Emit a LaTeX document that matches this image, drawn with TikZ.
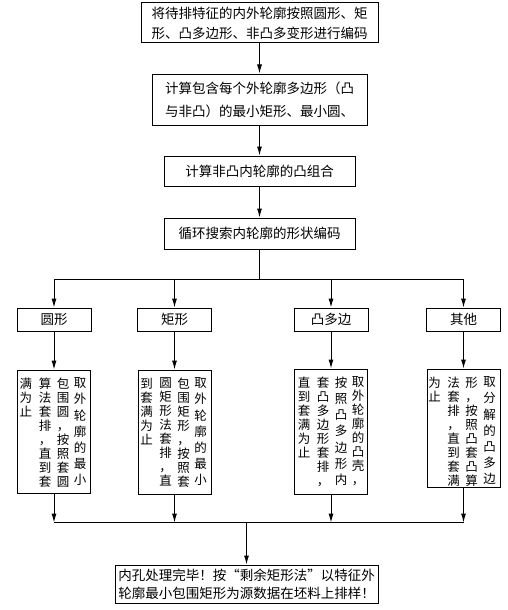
\documentclass[tikz,border=0pt]{standalone}
\usepackage{fontspec}
\setmainfont{Noto Sans CJK SC}
\usetikzlibrary{positioning, arrows.meta, calc}

\begin{document}
\begin{tikzpicture}[
    x=1pt, y=-1pt,
    procbox/.style = {draw, line width=1pt, align=center, inner sep=0pt, font=\fontsize{13.5}{20}\selectfont},
    catbox/.style  = {procbox, minimum width=74pt, minimum height=23pt},
    textbox/.style = {draw, line width=1pt, minimum width=73pt, inner sep=0pt, anchor=north},
    vcol/.style    = {anchor=north, align=center, inner sep=0pt, font=\fontsize{12.5}{14}\selectfont},
    vspread/.style = {vcol, font=\fontsize{12.5}{16.2}\selectfont},
    arrow/.style   = {-{Latex[length=9pt, width=5pt]}, line width=1pt},
    node distance  = 30pt
]
\useasboundingbox (0,0) rectangle (508,610);
% main chain
\node[procbox, minimum width=237pt, minimum height=40pt] (code) at (259.5,23)
  {将待排特征的内外轮廓按照圆形、矩\\形、凸多边形、非凸多变形进行编码};
\node[procbox, minimum width=215pt, minimum height=51pt, font=\fontsize{13.5}{23}\selectfont, below=of code] (bound)
  {计算包含每个外轮廓多边形（凸\\与非凸）的最小矩形、最小圆、};
\node[procbox, minimum width=191pt, minimum height=30pt, below=of bound] (convex) {计算非凸内轮廓的凸组合};
\node[procbox, minimum width=191pt, minimum height=31pt, below=31pt of convex] (search) {循环搜索内轮廓的形状编码};
\coordinate (split) at ($(search.south)+(0,30)$);
\foreach \a/\b in {code/bound, bound/convex, convex/search}
  \draw[arrow] (\a) -- (\b);
\draw[line width=1pt] (search) -- (split);
% shape classes
\node[catbox] (circ)  at (54,319.5)    {圆形};
\node[catbox] (rect)  at (174.5,319.5) {矩形};
\node[catbox] (poly)  at (331,319.5)   {凸多边};
\node[catbox] (other) at (463.5,319.5) {其他};
\node[textbox, minimum height=123pt, below=38pt of circ]  (tcirc)  {};
\node[textbox, minimum height=124pt, below=38pt of rect]  (trect)  {};
\node[textbox, minimum height=125pt, below=37pt of poly]  (tpoly)  {};
\node[textbox, minimum height=118pt, below=37pt of other] (tother) {};
% vertical texts, right to left
\node[vspread] (c1) at ($(tcirc.north east)+(-11,8)$) {取\\外\\轮\\廓\\的\\最\\小};
\node[vcol]    (c2) at ($(tcirc.north east)+(-28,8)$) {包\\围\\圆\\，\\按\\照\\套\\圆};
\node[vcol]    (c3) at ($(tcirc.north east)+(-46,8)$) {算\\法\\套\\排\\，\\直\\到\\套};
\node[vcol]    (c4) at ($(tcirc.north east)+(-65,8)$) {满\\为\\止};
\node[vspread] (r1) at ($(trect.north east)+(-11,8)$) {取\\外\\轮\\廓\\的\\最\\小};
\node[vcol]    (r2) at ($(trect.north east)+(-28,8)$) {包\\围\\矩\\形\\，\\按\\照\\套};
\node[vcol]    (r3) at ($(trect.north east)+(-46,8)$) {圆\\矩\\形\\法\\套\\排\\，\\直};
\node[vcol]    (r4) at ($(trect.north east)+(-65,8)$) {到\\套\\满\\为\\止};
\node[vcol]    (p1) at ($(tpoly.north east)+(-10,8)$) {取\\外\\轮\\廓\\的\\凸\\壳\\，};
\node[vspread] (p2) at ($(tpoly.north east)+(-27,8)$) {按\\照\\凸\\多\\边\\形\\内};
\node[vcol]    (p3) at ($(tpoly.north east)+(-45,8)$) {套\\凸\\多\\边\\形\\套\\排\\，};
\node[vcol]    (p4) at ($(tpoly.north east)+(-64,8)$) {直\\到\\套\\满\\为\\止};
\node[vspread] (o1) at ($(tother.north east)+(-11,8)$) {取\\分\\解\\的\\凸\\多\\边};
\node[vcol]    (o2) at ($(tother.north east)+(-29,8)$) {形\\，\\按\\照\\凸\\套\\凸\\算};
\node[vcol]    (o3) at ($(tother.north east)+(-47,8)$) {法\\套\\排\\，\\直\\到\\套\\满};
\node[vcol]    (o4) at ($(tother.north east)+(-66,8)$) {为\\止};
% result
\node[procbox, minimum width=263pt, minimum height=38pt, font=\fontsize{13.5}{18}\selectfont] (result) at (246.5,584)
  {内孔处理完毕！按“剩余矩形法”以特征外\\轮廓最小包围矩形为源数据在坯料上排样！};
\coordinate (merge) at ($(result.north)+(0,-42)$);
\draw[line width=1pt] (circ |- split) -- (other |- split);
\draw[line width=1pt] (tcirc |- merge) -- (tother |- merge);
\foreach \n/\m in {circ/tcirc, rect/trect, poly/tpoly, other/tother} {
  \draw[arrow] (\n |- split) -- (\n);
  \draw[arrow] (\n) -- (\m);
  \draw[arrow] (\m) -- (\m |- merge);
}
\draw[arrow] (merge) -- (result);
\end{tikzpicture}
\end{document}
